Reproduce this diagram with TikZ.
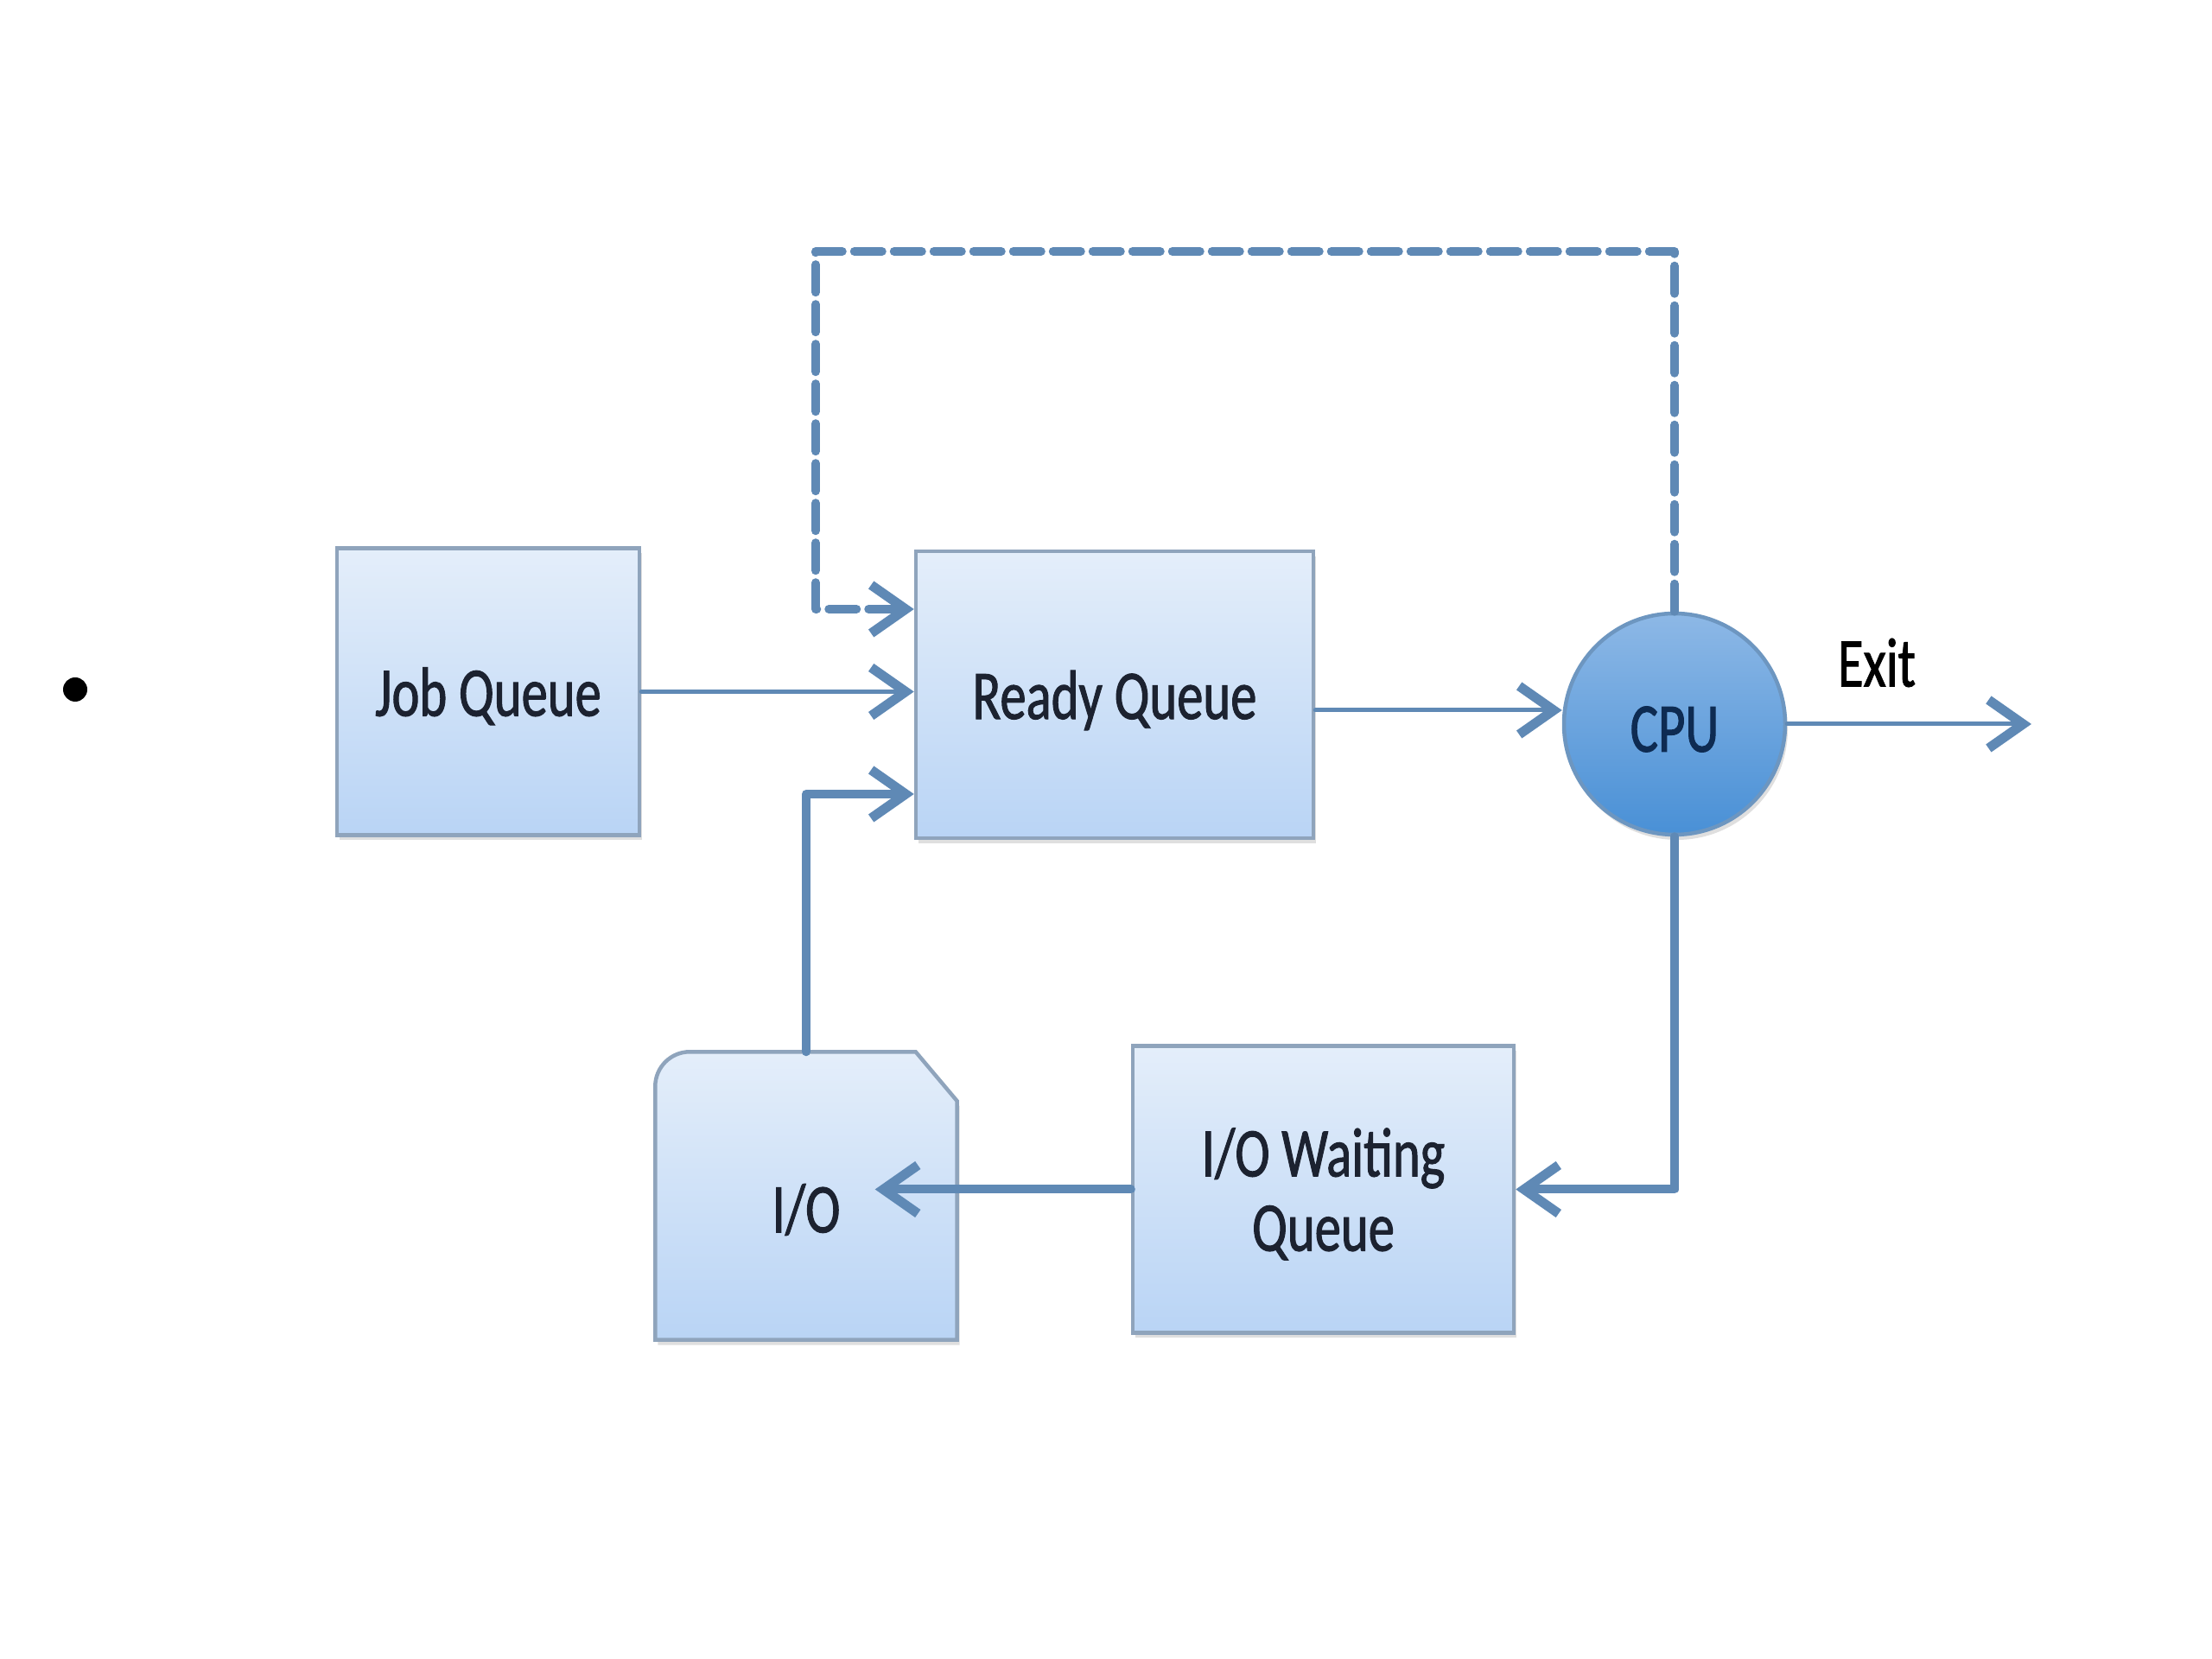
\documentclass[tikz,border=0pt]{standalone}
\usepackage{fontspec}
\newfontfamily\boxfont[FakeStretch=0.75,FakeBold=1.2]{Carlito}
\usetikzlibrary{arrows.meta,calc,shadows}
\definecolor{QueueLine}{HTML}{5F89B5}
\definecolor{QueueEdge}{HTML}{8FA4BC}
\definecolor{QueueTop}{HTML}{E4EEFA}
\definecolor{QueueBottom}{HTML}{B9D4F5}
\definecolor{CpuTop}{HTML}{8DB8E6}
\definecolor{CpuBottom}{HTML}{4990D6}
\definecolor{CpuEdge}{HTML}{6D96C0}
\definecolor{CpuInk}{HTML}{0E2B52}
\definecolor{LabelInk}{HTML}{1C2230}
\pgfdeclarelayer{bg}
\pgfsetlayers{bg,main}

\begin{document}
\begin{tikzpicture}[
    x=1mm,y=1mm,
    qshade/.style={
      draw=QueueEdge, line width=0.45mm,
      top color=QueueTop, bottom color=QueueBottom,
      drop shadow={shadow xshift=0.3mm, shadow yshift=-0.6mm, opacity=0.25}
    },
    qfont/.style={font=\boxfont\fontsize{23}{24.5}\selectfont, text=LabelInk},
    qbox/.style={qshade, qfont, minimum height=33.2mm, align=center, text depth=0pt},
    flow/.style={
      draw=QueueLine, line width=0.5mm, line cap=round,
      -{Straight Barb[length=4mm,width=5.6mm,line width=1.1mm]}
    },
    heavy/.style={flow, line width=1mm, line join=round},
    loopback/.style={heavy, dash pattern=on 3.2mm off 1.4mm}
  ]
    \useasboundingbox (0,0) rectangle (256,192);

    \node[circle, fill=black, inner sep=0pt, minimum size=2.8mm] (bullet) at (8.7,112.2) {};

    % queues and cpu
    \node[qbox, minimum width=35mm] (job) at (56.5,111.95) {Job Queue};
    \node[qbox, minimum width=46mm] (ready) at (129,111.6) {Ready Queue};
    \node[qbox, minimum width=44.1mm] (wait) at (153.15,54.35) {I/O Waiting\\Queue};
    \node[qfont, minimum width=34.8mm, minimum height=33.2mm, inner sep=0pt] (io) at (93.3,53.6)
      {\raisebox{-1.6mm}[\height][\depth]{I/O}};
    \node[circle, minimum size=25.6mm, inner sep=0pt, line width=0.45mm,
      draw=CpuEdge, top color=CpuTop, bottom color=CpuBottom,
      drop shadow={shadow xshift=0.3mm, shadow yshift=-0.6mm, opacity=0.25},
      font=\boxfont\fontsize{23}{24.5}\selectfont, text=CpuInk] (cpu) at (193.8,108.2)
      {\raisebox{-0.6mm}[\height][\depth]{CPU}};

    % device outline: rounded on one corner, cut on the other
    \begin{pgfonlayer}{bg}
      \path[qshade]
        (io.south west) -- ([yshift=-4mm]io.north west)
        arc[start angle=180, end angle=90, radius=4mm]
        -- ([xshift=-4.8mm]io.north east) -- ([yshift=-5.7mm]io.north east)
        -- (io.south east) -- cycle;
    \end{pgfonlayer}

    \coordinate (loop) at (94.4,162.9);
    \coordinate (exitend) at (235.1,108.2);
    \node[qfont, text=black] (exit) at (217.2,115.3) {Exit};

    \draw[flow] (job.east) -- (job.east -| ready.west);
    \draw[flow] ([yshift=-1.8mm]ready.east) -- ([yshift=-1.8mm]ready.east -| cpu.west);
    \draw[flow] (cpu.east) -- (exitend);
    \draw[loopback] (cpu.north) |- (loop) |- ([yshift=9.9mm]ready.west);
    \draw[heavy] (io.north) |- ([yshift=-11.5mm]ready.west);
    \draw[heavy] (cpu.south) |- (wait.east);
    \draw[heavy] (wait.west) -- ([xshift=-9.5mm]wait.west -| io.east);
  \end{tikzpicture}
\end{document}
